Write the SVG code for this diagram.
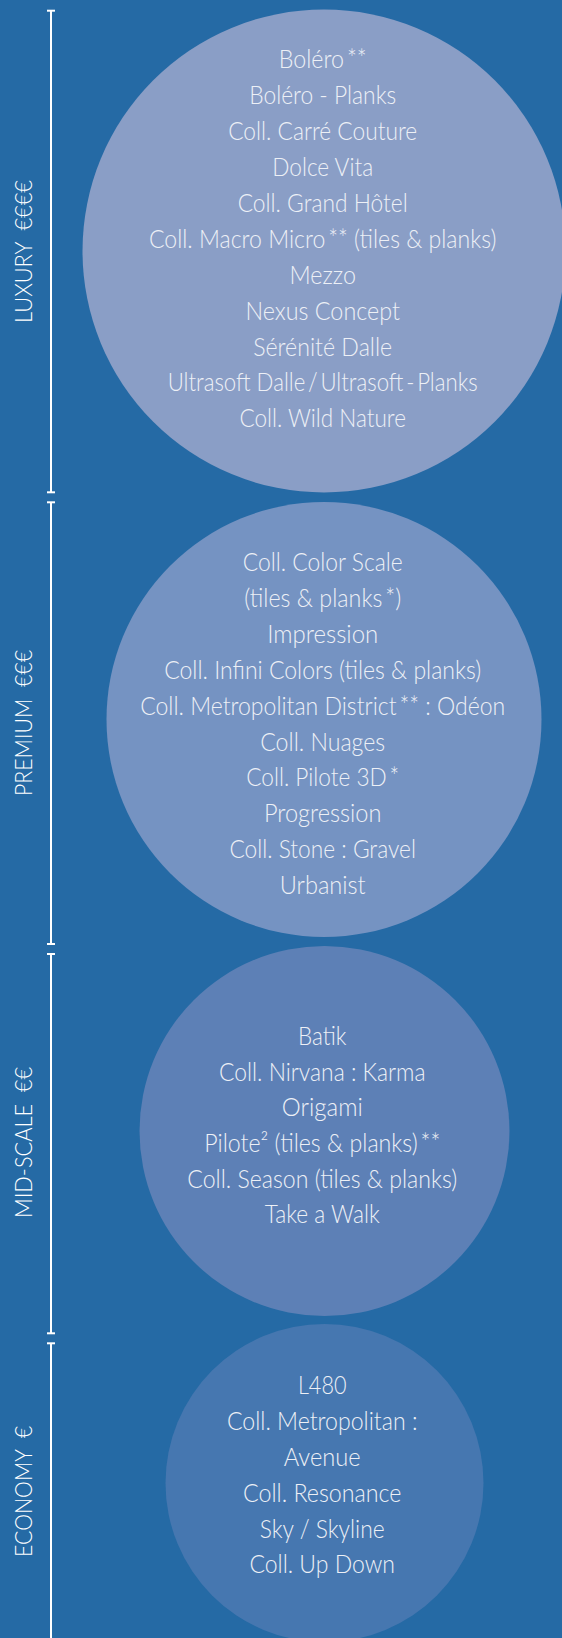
<svg xmlns="http://www.w3.org/2000/svg" width="562" height="1638" viewBox="0 0 562 1638">
<style>
.bg{fill:#256aa5}
.axis line{stroke:#ffffff;stroke-width:2;stroke-linecap:butt}
.t{font-family:Lato,"Open Sans","Liberation Sans",sans-serif;font-weight:300;font-size:25px;fill:#edf0f6;text-anchor:middle}
.side{font-family:Lato,"Open Sans","Liberation Sans",sans-serif;font-weight:300;font-size:24px;fill:#ffffff;text-anchor:middle}
</style>
<rect class="bg" x="0" y="0" width="562" height="1638"/>
<g id="connectors" class="axis">
<line x1="51" y1="10.7" x2="51" y2="492.3"/>
<line x1="47" y1="10.7" x2="55" y2="10.7"/>
<line x1="47" y1="492.3" x2="55" y2="492.3"/>
<line x1="51" y1="502.3" x2="51" y2="944"/>
<line x1="47" y1="502.3" x2="55" y2="502.3"/>
<line x1="47" y1="944" x2="55" y2="944"/>
<line x1="51" y1="954" x2="51" y2="1333.3"/>
<line x1="47" y1="954" x2="55" y2="954"/>
<line x1="47" y1="1333.3" x2="55" y2="1333.3"/>
<line x1="51" y1="1343.3" x2="51" y2="1640"/>
<line x1="47" y1="1343.3" x2="55" y2="1343.3"/>
</g>
<g id="label-luxury"><text class="side" transform="translate(32,251.5) rotate(-90)" textLength="143" lengthAdjust="spacingAndGlyphs">LUXURY&#160;&#160;€€€€</text></g>
<g id="label-premium"><text class="side" transform="translate(32,723) rotate(-90)" textLength="146" lengthAdjust="spacingAndGlyphs">PREMIUM&#160;&#160;€€€</text></g>
<g id="label-midscale"><text class="side" transform="translate(32,1142.5) rotate(-90)" textLength="151" lengthAdjust="spacingAndGlyphs">MID-SCALE&#160;&#160;€€</text></g>
<g id="label-economy"><text class="side" transform="translate(32,1491.5) rotate(-90)" textLength="131" lengthAdjust="spacingAndGlyphs">ECONOMY&#160;&#160;€</text></g>
<g id="luxury">
<circle cx="324" cy="251" r="241.5" fill="#8a9ec6"/>
<text class="t" x="322.7" y="68.3" textLength="88" lengthAdjust="spacingAndGlyphs">Boléro&#8201;**</text>
<text class="t" x="322.7" y="104.2" textLength="147" lengthAdjust="spacingAndGlyphs">Boléro - Planks</text>
<text class="t" x="322.7" y="140.1" textLength="189" lengthAdjust="spacingAndGlyphs">Coll. Carré Couture</text>
<text class="t" x="322.7" y="176" textLength="101" lengthAdjust="spacingAndGlyphs">Dolce Vita</text>
<text class="t" x="322.7" y="211.9" textLength="170" lengthAdjust="spacingAndGlyphs">Coll. Grand Hôtel</text>
<text class="t" x="322.7" y="247.8" textLength="347.5" lengthAdjust="spacingAndGlyphs">Coll. Macro Micro&#8201;** (tiles &amp; planks)</text>
<text class="t" x="322.7" y="283.7" textLength="66.5" lengthAdjust="spacingAndGlyphs">Mezzo</text>
<text class="t" x="322.7" y="319.6" textLength="154.5" lengthAdjust="spacingAndGlyphs">Nexus Concept</text>
<text class="t" x="322.7" y="355.5" textLength="139" lengthAdjust="spacingAndGlyphs">Sérénité Dalle</text>
<text class="t" x="322.7" y="391.4" textLength="310" lengthAdjust="spacingAndGlyphs">Ultrasoft Dalle&#8201;/&#8201;Ultrasoft&#8201;-&#8201;Planks</text>
<text class="t" x="322.7" y="427.3" textLength="166.5" lengthAdjust="spacingAndGlyphs">Coll. Wild Nature</text>
</g>
<g id="premium">
<circle cx="324" cy="719.5" r="217.5" fill="#7593c2"/>
<text class="t" x="322.7" y="570.7" textLength="160" lengthAdjust="spacingAndGlyphs">Coll. Color Scale</text>
<text class="t" x="322.7" y="606.7" textLength="157" lengthAdjust="spacingAndGlyphs">(tiles &amp; planks&#8201;*)</text>
<text class="t" x="322.7" y="642.6" textLength="111" lengthAdjust="spacingAndGlyphs">Impression</text>
<text class="t" x="322.7" y="678.6" textLength="317" lengthAdjust="spacingAndGlyphs">Coll. Infini Colors (tiles &amp; planks)</text>
<text class="t" x="322.7" y="714.5" textLength="365" lengthAdjust="spacingAndGlyphs">Coll. Metropolitan District&#8201;** : Odéon</text>
<text class="t" x="322.7" y="750.5" textLength="125" lengthAdjust="spacingAndGlyphs">Coll. Nuages</text>
<text class="t" x="322.7" y="786.4" textLength="153" lengthAdjust="spacingAndGlyphs">Coll. Pilote 3D&#8201;*</text>
<text class="t" x="322.7" y="822.4" textLength="117.5" lengthAdjust="spacingAndGlyphs">Progression</text>
<text class="t" x="322.7" y="858.3" textLength="186.5" lengthAdjust="spacingAndGlyphs">Coll. Stone : Gravel</text>
<text class="t" x="322.7" y="894.3" textLength="86" lengthAdjust="spacingAndGlyphs">Urbanist</text>
</g>
<g id="midscale">
<circle cx="324.5" cy="1131" r="185" fill="#5d80b6"/>
<text class="t" x="322.3" y="1045" textLength="48.5" lengthAdjust="spacingAndGlyphs">Batik</text>
<text class="t" x="322.3" y="1080.7" textLength="206.5" lengthAdjust="spacingAndGlyphs">Coll. Nirvana : Karma</text>
<text class="t" x="322.3" y="1116.4" textLength="81" lengthAdjust="spacingAndGlyphs">Origami</text>
<text class="t" x="322.3" y="1152" textLength="236" lengthAdjust="spacingAndGlyphs">Pilote² (tiles &amp; planks)&#8201;**</text>
<text class="t" x="322.3" y="1187.7" textLength="270" lengthAdjust="spacingAndGlyphs">Coll. Season (tiles &amp; planks)</text>
<text class="t" x="322.3" y="1223.3" textLength="115" lengthAdjust="spacingAndGlyphs">Take a Walk</text>
</g>
<g id="economy">
<circle cx="324.5" cy="1483" r="159" fill="#4677b0"/>
<text class="t" x="322.2" y="1394.3" textLength="48.5" lengthAdjust="spacingAndGlyphs">L480</text>
<text class="t" x="322.2" y="1430.1" textLength="190.5" lengthAdjust="spacingAndGlyphs">Coll. Metropolitan :</text>
<text class="t" x="322.2" y="1465.9" textLength="77" lengthAdjust="spacingAndGlyphs">Avenue</text>
<text class="t" x="322.2" y="1501.7" textLength="158.5" lengthAdjust="spacingAndGlyphs">Coll. Resonance</text>
<text class="t" x="322.2" y="1537.5" textLength="125" lengthAdjust="spacingAndGlyphs">Sky / Skyline</text>
<text class="t" x="322.2" y="1573.3" textLength="145.5" lengthAdjust="spacingAndGlyphs">Coll. Up Down</text>
</g>
</svg>
